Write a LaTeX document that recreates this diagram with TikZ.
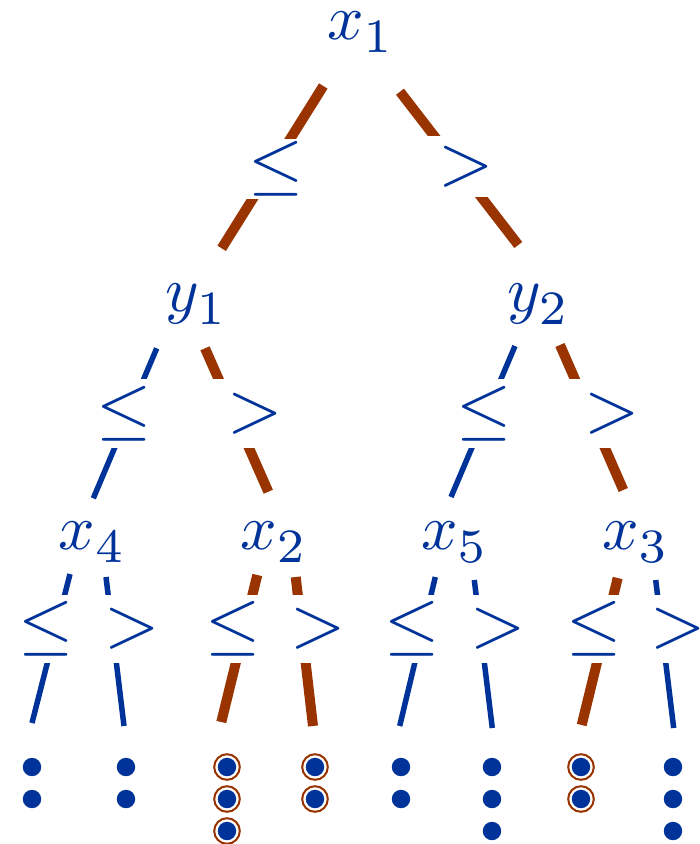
\documentclass[tikz,border=0pt]{standalone}
\usepackage{graphicx}
\definecolor{tblue}{RGB}{0,51,153}
\definecolor{tbrown}{RGB}{153,51,0}
\newcommand{\tsub}[1]{\raisebox{-0.5pt}{\scalebox{1.07}{$\scriptstyle #1$}}}
\tikzset{
  tnode/.style={text=tblue, inner sep=0pt, anchor=base, scale=1.82},
  lbl/.style={text=tblue, fill=white, inner sep=0pt, minimum width=0.9cm},
  lvlone/.style={minimum height=0.60cm},
  lvltwo/.style={minimum height=0.69cm},
  lvlthree/.style={minimum height=0.68cm},
  bedge/.style={draw=tblue, line width=0.055cm},
  hedge/.style={draw=tbrown, line width=0.10cm},
  leafdot/.style={circle, fill=tblue, inner sep=0pt, minimum size=0.184cm},
  ring/.style={draw=tbrown, line width=0.02cm},
}
\begin{document}
\begin{tikzpicture}[x=0.01cm,y=-0.01cm]
\useasboundingbox (0,0) rectangle (700,844);
% tree nodes
\node[tnode] (x1) at (360.6,39.5) {$x_{\tsub{1}}$};
\node[tnode] (y1) at (196.5,311.5) {$y_{\tsub{1}}$};
\node[tnode] (y2) at (538.5,311.5) {$y_{\tsub{2}}$};
\node[tnode] (x4) at (92.4,549.5) {$x_{\tsub{4}}$};
\node[tnode] (x2) at (273.9,549.5) {$x_{\tsub{2}}$};
\node[tnode] (x5) at (454.6,549.5) {$x_{\tsub{5}}$};
\node[tnode] (x3) at (635.6,549.5) {$x_{\tsub{3}}$};
% leaves
\node[leafdot] (L1a) at (32,767) {};  \node[leafdot] (L1b) at (32,799) {};
\node[leafdot] (L2a) at (126,767) {}; \node[leafdot] (L2b) at (126,799) {};
\node[leafdot] (L3a) at (227,767) {}; \node[leafdot] (L3b) at (227,799) {}; \node[leafdot] (L3c) at (227,831) {};
\node[leafdot] (L4a) at (315,767) {}; \node[leafdot] (L4b) at (315,799) {};
\node[leafdot] (L5a) at (401,767) {}; \node[leafdot] (L5b) at (401,799) {};
\node[leafdot] (L6a) at (492,767) {}; \node[leafdot] (L6b) at (492,799) {}; \node[leafdot] (L6c) at (492,831) {};
\node[leafdot] (L7a) at (581,767) {}; \node[leafdot] (L7b) at (581,799) {};
\node[leafdot] (L8a) at (673,767) {}; \node[leafdot] (L8b) at (673,799) {}; \node[leafdot] (L8c) at (673,831) {};
% rings
\foreach \r in {L3a,L3b,L3c,L4a,L4b,L7a,L7b}
  \draw[ring] (\r) circle[radius=0.128cm];
% edges
\draw[hedge] ([shift={(-37.3,46.5)}]x1.base) -- ([shift={(25.2,-63.2)}]y1.base);
\draw[hedge] ([shift={(39.4,52.2)}]x1.base) -- ([shift={(-20.2,-66.5)}]y2.base);
\draw[bedge] ([shift={(-39.8,36.8)}]y1.base) -- ([shift={(0.9,-51.2)}]x4.base);
\draw[hedge] ([shift={(8.5,36.8)}]y1.base) -- ([shift={(-5.6,-57.8)}]x2.base);
\draw[bedge] ([shift={(-23.5,34.5)}]y2.base) -- ([shift={(-3.6,-52.5)}]x5.base);
\draw[hedge] ([shift={(21.5,33.5)}]y2.base) -- ([shift={(-12.3,-59.5)}]x3.base);
\draw[bedge] ([shift={(-22.4,24.5)}]x4.base) -- ([shift={(0,-44)}]L1a.center);
\draw[bedge] ([shift={(13.6,27.5)}]x4.base) -- ([shift={(-2,-41)}]L2a.center);
\draw[hedge] ([shift={(-16.6,25.5)}]x2.base) -- ([shift={(-5.7,-45)}]L3a.center);
\draw[hedge] ([shift={(21.8,27.5)}]x2.base) -- ([shift={(-2,-41)}]L4a.center);
\draw[bedge] ([shift={(-19.3,27.5)}]x5.base) -- ([shift={(-1.3,-41)}]L5a.center);
\draw[bedge] ([shift={(19.7,30.5)}]x5.base) -- ([shift={(0.3,-39)}]L6a.center);
\draw[hedge] ([shift={(-17.9,28.5)}]x3.base) -- ([shift={(0.7,-42)}]L7a.center);
\draw[bedge] ([shift={(20.1,30.5)}]x3.base) -- ([shift={(0.7,-39)}]L8a.center);
% edge labels
\node[lbl, lvlone] (la) at (276.5,169) {\scalebox{2.02}{$\le$}};
\node[lbl, lvlone] (lb) at (466,166.5) {\scalebox{2.02}{$>$}};
\node[lbl, lvltwo] (lc) at (124.5,413.5) {\scalebox{2.02}{$\le$}};
\node[lbl, lvltwo] (ld) at (255,413.5) {\scalebox{2.02}{$>$}};
\node[lbl, lvltwo] (le) at (484.5,413.5) {\scalebox{2.02}{$\le$}};
\node[lbl, lvltwo] (lf) at (612.5,413.5) {\scalebox{2.02}{$>$}};
\node[lbl, lvlthree] (lg) at (46.5,629) {\scalebox{2.02}{$\le$}};
\node[lbl, lvlthree] (lh) at (132.5,629) {\scalebox{2.02}{$>$}};
\node[lbl, lvlthree] (li) at (233.3,629) {\scalebox{2.02}{$\le$}};
\node[lbl, lvlthree] (lj) at (318.3,629) {\scalebox{2.02}{$>$}};
\node[lbl, lvlthree] (lk) at (412.3,629) {\scalebox{2.02}{$\le$}};
\node[lbl, lvlthree] (ll) at (497.7,629) {\scalebox{2.02}{$>$}};
\node[lbl, lvlthree] (lm) at (593.7,629) {\scalebox{2.02}{$\le$}};
\node[lbl, lvlthree] (ln) at (677.8,629) {\scalebox{2.02}{$>$}};
\end{tikzpicture}
\end{document}
